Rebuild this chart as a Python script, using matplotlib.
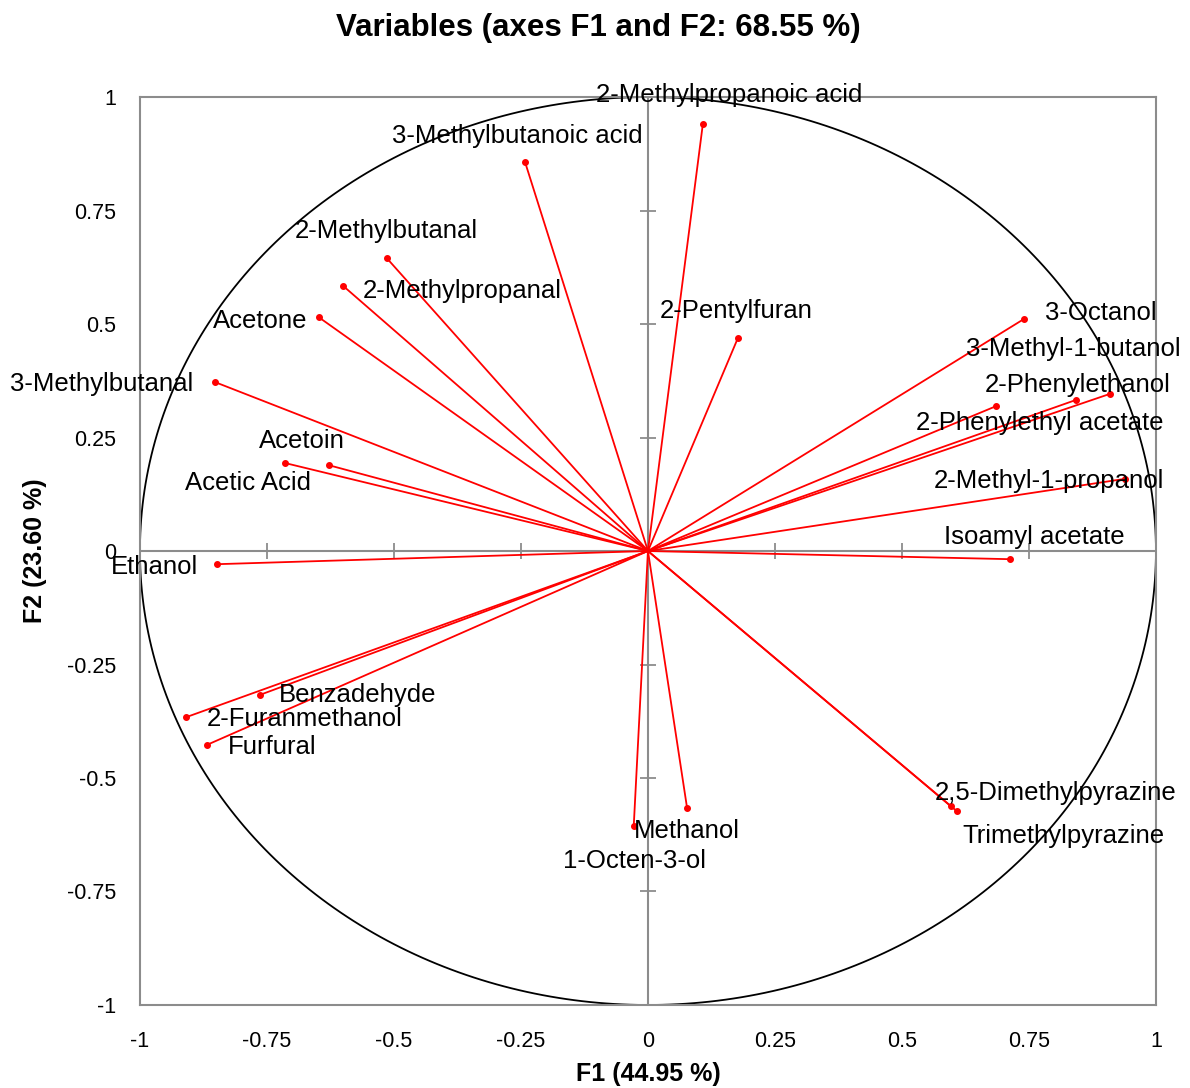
"""Correlation circle (PCA variables, F1 vs F2)."""
import matplotlib

matplotlib.use("Agg")
import matplotlib.pyplot as plt
import numpy as np

plt.rcParams["font.family"] = ["Liberation Sans", "DejaVu Sans"]

# variable loadings
names = [
    "2-Methylpropanoic acid", "3-Methylbutanoic acid", "2-Methylbutanal",
    "2-Methylpropanal", "Acetone", "3-Methylbutanal", "Acetoin", "Acetic Acid",
    "Ethanol", "Benzadehyde", "2-Furanmethanol", "Furfural", "1-Octen-3-ol",
    "Methanol", "2-Pentylfuran", "3-Octanol", "2-Phenylethyl acetate",
    "2-Phenylethanol", "3-Methyl-1-butanol", "2-Methyl-1-propanol",
    "Isoamyl acetate", "2,5-Dimethylpyrazine", "Trimethylpyrazine",
]
f1 = [0.108, -0.242, -0.514, -0.600, -0.648, -0.852, -0.628, -0.715,
      -0.848, -0.764, -0.909, -0.868, -0.028, 0.077, 0.177, 0.740, 0.685,
      0.843, 0.909, 0.939, 0.713, 0.596, 0.608]
f2 = [0.940, 0.857, 0.645, 0.584, 0.515, 0.372, 0.189, 0.194,
      -0.029, -0.317, -0.366, -0.427, -0.606, -0.566, 0.469, 0.511, 0.319,
      0.333, 0.346, 0.159, -0.018, -0.562, -0.573]

# label anchors (left edge, vertical centre), in data units
label_pos = {
    "2-Methylpropanoic acid": (-0.103, 1.005),
    "3-Methylbutanoic acid": (-0.503, 0.915),
    "2-Methylbutanal": (-0.696, 0.705),
    "2-Methylpropanal": (-0.562, 0.573),
    "Acetone": (-0.856, 0.507),
    "3-Methylbutanal": (-1.256, 0.368),
    "Acetoin": (-0.766, 0.242),
    "Acetic Acid": (-0.912, 0.150),
    "Ethanol": (-1.057, -0.035),
    "Benzadehyde": (-0.726, -0.317),
    "2-Furanmethanol": (-0.868, -0.370),
    "Furfural": (-0.827, -0.432),
    "1-Octen-3-ol": (-0.167, -0.683),
    "Methanol": (-0.028, -0.617),
    "2-Pentylfuran": (0.024, 0.529),
    "3-Octanol": (0.781, 0.524),
    "3-Methyl-1-butanol": (0.626, 0.445),
    "2-Phenylethanol": (0.663, 0.366),
    "2-Phenylethyl acetate": (0.528, 0.282),
    "2-Methyl-1-propanol": (0.563, 0.154),
    "Isoamyl acetate": (0.583, 0.031),
    "2,5-Dimethylpyrazine": (0.565, -0.533),
    "Trimethylpyrazine": (0.618, -0.628),
}

ticks = [-1, -0.75, -0.5, -0.25, 0, 0.25, 0.5, 0.75, 1]
tick_labels = ["-1", "-0.75", "-0.5", "-0.25", "0", "0.25", "0.5", "0.75", "1"]
inner_ticks = [-0.75, -0.5, -0.25, 0.25, 0.5, 0.75]

fig = plt.figure(figsize=(11.9, 10.88), dpi=100)
ax = fig.add_axes([0.1176, 0.0763, 0.8538, 0.8345])
ax.set_xlim(-1, 1)
ax.set_ylim(-1, 1)

grey = "#8c8c8c"
for sp in ax.spines.values():
    sp.set_color(grey)
    sp.set_linewidth(1.5)

# central axes with crossing tick marks
ax.axhline(0, color=grey, lw=1.5, zorder=1)
ax.axvline(0, color=grey, lw=1.5, zorder=1)
ax.plot(inner_ticks, [0] * len(inner_ticks), ls="none", marker="|",
        ms=12, mew=1.3, color=grey, zorder=1)
ax.plot([0] * len(inner_ticks), inner_ticks, ls="none", marker="_",
        ms=12, mew=1.3, color=grey, zorder=1)

# unit circle
t = np.linspace(0, 2 * np.pi, 400)
ax.plot(np.cos(t), np.sin(t), color="black", lw=1.3, zorder=2, clip_on=False)

# loadings
for x, y in zip(f1, f2):
    ax.plot([0, x], [0, y], color="red", lw=1.3, zorder=3)
ax.plot(f1, f2, ls="none", marker="o", ms=4, color="red", zorder=4)

for name in names:
    lx, ly = label_pos[name]
    ax.text(lx, ly, name, fontsize=18.5, ha="left", va="center", zorder=5)

ax.set_xticks(ticks)
ax.set_xticklabels(tick_labels)
ax.set_yticks(ticks)
ax.set_yticklabels(tick_labels)
ax.tick_params(length=0, labelsize=15.5)
ax.tick_params(axis="x", pad=19)
ax.tick_params(axis="y", pad=17)

fig.text(0.5445, 0.0129, "F1 (44.95 %)", fontsize=18, fontweight="bold",
         ha="center", va="center")
fig.text(0.0294, 0.4936, "F2 (23.60 %)", fontsize=18, fontweight="bold",
         ha="center", va="center", rotation=90)
fig.text(0.503, 0.974, "Variables (axes F1 and F2: 68.55 %)", fontsize=22.5,
         fontweight="bold", ha="center", va="center")

fig.savefig("out.png", dpi=100)
